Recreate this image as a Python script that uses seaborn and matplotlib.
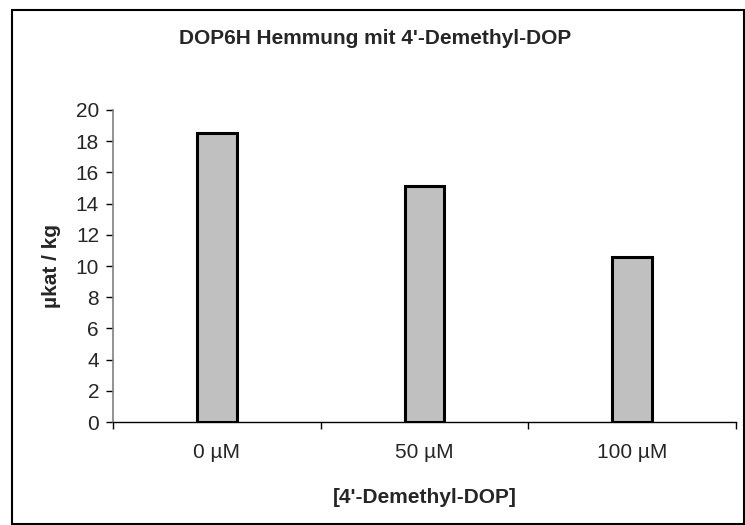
import matplotlib
matplotlib.use("Agg")
import matplotlib.pyplot as plt
import seaborn as sns
import pandas as pd
from matplotlib.patches import Rectangle
from matplotlib.ticker import FixedLocator

categories = ["0 µM", "50 µM", "100 µM"]
values = [18.5, 15.1, 10.6]
yticks = [0, 2, 4, 6, 8, 10, 12, 14, 16, 18, 20]

sns.set_theme(style="white")
plt.rcParams["font.family"] = ["Liberation Sans", "DejaVu Sans"]

df = pd.DataFrame({"cat": categories, "val": values})

W, H = 745, 525
fig = plt.figure(figsize=(W / 100, H / 100), dpi=100)
# plot area in pixels: left 113, right 736, top 110, bottom 422
ax = fig.add_axes([113 / W, (H - 422) / H, (736 - 113) / W, (422 - 110) / H])

sns.barplot(data=df, x="cat", y="val", ax=ax, color="#C0C0C0",
            edgecolor="black", linewidth=2.2, width=0.19, saturation=1)

ax.set_ylim(0, 20)
ax.set_xlim(-0.5, 2.5)
ax.set_yticks(yticks)
ax.set_yticklabels([str(t) for t in yticks], fontsize=15)
ax.set_xticks(range(len(categories)))
ax.set_xticklabels(categories, fontsize=15)
ax.xaxis.set_minor_locator(FixedLocator([-0.5, 0.5, 1.5, 2.5]))
ax.tick_params(axis="x", which="major", length=0, pad=15)
ax.tick_params(axis="x", which="minor", length=5, width=1, color="black", direction="out", bottom=True)
ax.tick_params(axis="y", length=5, width=1, color="black", direction="out", left=True, pad=5)

for s in ["top", "right"]:
    ax.spines[s].set_visible(False)
ax.spines["left"].set_color("#808080")
ax.spines["left"].set_linewidth(1.2)
ax.spines["bottom"].set_color("black")
ax.spines["bottom"].set_linewidth(1)

ax.set_xlabel("[4'-Demethyl-DOP]", fontsize=15, fontweight="bold", labelpad=19)
ax.set_ylabel("µkat / kg", fontsize=15, fontweight="bold", va="center")
ax.yaxis.set_label_coords(52 / W, (H - 266) / H, transform=fig.transFigure)
fig.text(375 / W, (H - 38) / H, "DOP6H Hemmung mit 4'-Demethyl-DOP", fontsize=15,
         fontweight="bold", ha="center", va="center")

fig.patches.append(Rectangle((12 / W, 0.001), 0.998 - 12 / W, 1 - 10 / H - 0.001,
                             transform=fig.transFigure, fill=False,
                             edgecolor="black", linewidth=1.5))

fig.savefig("out.png", dpi=100)
